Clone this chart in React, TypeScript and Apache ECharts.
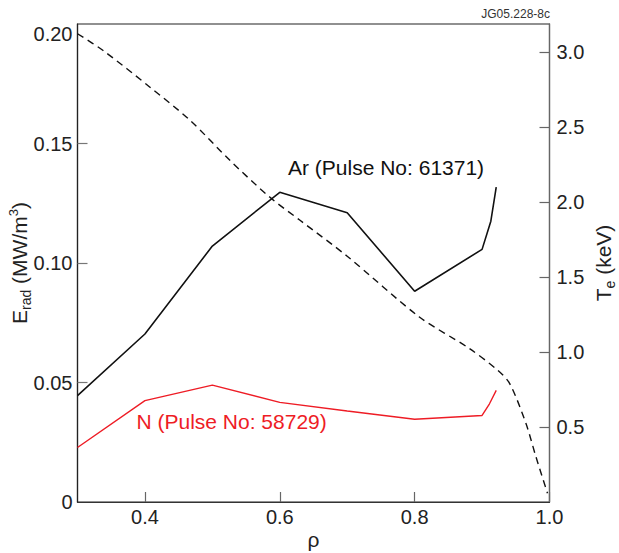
import React, { useEffect, useRef } from "react";
import * as echarts from "echarts";

const FONT = "'Liberation Sans', Arial, Helvetica, sans-serif";

// rho positions and values
const arRho = [0.3, 0.4, 0.5, 0.6, 0.7, 0.8, 0.9, 0.913, 0.921];
const arErad = [0.0445, 0.0703, 0.1071, 0.1296, 0.121, 0.0882, 0.1057, 0.1175, 0.1317];

const nRho = [0.3, 0.4, 0.5, 0.6, 0.7, 0.8, 0.9, 0.911, 0.921];
const nErad = [0.0228, 0.0424, 0.0489, 0.0417, 0.0381, 0.0346, 0.0362, 0.0411, 0.0467];

const teRho = [0.3, 0.338, 0.407, 0.467, 0.526, 0.585, 0.63, 0.7, 0.807, 0.881, 0.923, 0.941, 0.965, 0.98, 0.997];
const teKeV = [3.125, 3.013, 2.77, 2.547, 2.28, 2.035, 1.88, 1.64, 1.235, 1.025, 0.88, 0.79, 0.525, 0.3, 0.058];

const xTicks = [0.4, 0.6, 0.8, 1.0];
const xLabels = [0.4, 0.6, 0.8, 1.0];
const leftTicks = [0.05, 0.1, 0.15];
const leftLabels = [0, 0.05, 0.1, 0.15, 0.2];
const rightTicks = [0.5, 1.0, 1.5, 2.0, 2.5, 3.0];
const rightLabels = [0.5, 1.0, 1.5, 2.0, 2.5, 3.0];

const arLabel = "Ar (Pulse No: 61371)";
const nLabel = "N (Pulse No: 58729)";
const figId = "JG05.228-8c";

const zip = (xs: number[], ys: number[]) => xs.map((x, i) => [x, ys[i]]);

export default function App() {
  const ref = useRef<HTMLDivElement>(null);
  useEffect(() => {
    if (!ref.current) return;
    const chart = echarts.init(ref.current, undefined, { renderer: "svg" });
    const labelStyle = { color: "#222", fontSize: 20, fontFamily: FONT };
    chart.setOption({
      animation: false,
      backgroundColor: "#fff",
      grid: {
        left: 77.5,
        right: 69.5,
        top: 24,
        bottom: 51,
        containLabel: false,
        outerBoundsMode: "none",
        show: true,
        borderColor: "#222",
        borderWidth: 1.2,
        backgroundColor: "transparent",
      },
      xAxis: {
        type: "value",
        min: 0.3,
        max: 1.0,
        interval: 0.1,
        name: "ρ",
        nameLocation: "middle",
        nameGap: 27,
        nameMoveOverlap: false,
        nameTextStyle: { color: "#222", fontSize: 21, fontFamily: FONT },
        axisLine: { lineStyle: { color: "#333", width: 1.2 } },
        axisTick: { inside: true, length: 10, customValues: xTicks, lineStyle: { color: "#666", width: 1.2 } },
        axisLabel: {
          ...labelStyle,
          margin: 5,
          customValues: xLabels,
          formatter: (v: number) => v.toFixed(1),
        },
        splitLine: { show: false },
      },
      yAxis: [
        {
          type: "value",
          min: 0,
          max: 0.2,
          interval: 0.05,
          position: "left",
          name: "{b|E}{sub|rad}{b| (MW/m}{sup|3}{b|)}",
          nameLocation: "middle",
          nameRotate: 90,
          nameGap: 45,
          nameMoveOverlap: false,
          nameTextStyle: {
            color: "#222",
            fontFamily: FONT,
            rich: {
              b: { fontSize: 21, lineHeight: 26, fontFamily: FONT, color: "#222", verticalAlign: "middle" },
              sub: { fontSize: 14, lineHeight: 14, fontFamily: FONT, color: "#222", verticalAlign: "bottom" },
              sup: { fontSize: 13, lineHeight: 13, fontFamily: FONT, color: "#222", verticalAlign: "top" },
            },
          },
          axisLine: { show: true, lineStyle: { color: "#222", width: 1.2 } },
          axisTick: { show: true, inside: true, length: 10, customValues: leftTicks, lineStyle: { color: "#777", width: 1.2 } },
          axisLabel: {
            ...labelStyle,
            margin: 5,
            customValues: leftLabels,
            verticalAlignMaxLabel: "top",
            formatter: (v: number) => (v === 0 ? "0" : v.toFixed(2)),
          },
          splitLine: { show: false },
        },
        {
          type: "value",
          min: 0,
          max: 3.19,
          interval: 0.5,
          position: "right",
          name: "{b|T}{sub|e}{b| (keV)}",
          nameLocation: "middle",
          nameRotate: 90,
          nameGap: 41,
          nameMoveOverlap: false,
          nameTextStyle: {
            color: "#222",
            fontFamily: FONT,
            rich: {
              b: { fontSize: 21, lineHeight: 26, fontFamily: FONT, color: "#222", verticalAlign: "middle" },
              sub: { fontSize: 14, lineHeight: 14, fontFamily: FONT, color: "#222", verticalAlign: "bottom" },
            },
          },
          axisLine: { show: true, lineStyle: { color: "#666", width: 1.2 } },
          axisTick: { show: true, inside: true, length: 10, customValues: rightTicks, lineStyle: { color: "#666", width: 1.2 } },
          axisLabel: {
            ...labelStyle,
            margin: 7,
            customValues: rightLabels,
            formatter: (v: number) => v.toFixed(1),
          },
          splitLine: { show: false },
        },
      ],
      series: [
        {
          type: "line",
          name: "Te",
          yAxisIndex: 1,
          data: zip(teRho, teKeV),
          smooth: 0.3,
          showSymbol: false,
          lineStyle: { color: "#111", width: 1.4, type: [7, 5] },
        },
        {
          type: "line",
          name: "Ar",
          yAxisIndex: 0,
          data: zip(arRho, arErad),
          showSymbol: false,
          lineStyle: { color: "#111", width: 1.6 },
        },
        {
          type: "line",
          name: "N",
          yAxisIndex: 0,
          data: zip(nRho, nErad),
          showSymbol: false,
          lineStyle: { color: "#ee1c25", width: 1.4 },
        },
      ],
      graphic: [
        {
          type: "text",
          x: 288,
          y: 167.5,
          style: { text: arLabel, fill: "#111", font: `21px ${FONT}`, align: "left", verticalAlign: "middle" },
        },
        {
          type: "text",
          x: 136.5,
          y: 421,
          style: { text: nLabel, fill: "#ee1c25", font: `21px ${FONT}`, align: "left", verticalAlign: "middle" },
        },
        {
          type: "text",
          x: 550,
          y: 14.2,
          style: { text: figId, fill: "#333", font: `12px ${FONT}`, align: "right", verticalAlign: "middle" },
        },
      ],
    });
    return () => chart.dispose();
  }, []);
  return <div ref={ref} style={{ width: 619, height: 553, position: "absolute", left: 0, top: 0 }} />;
}
